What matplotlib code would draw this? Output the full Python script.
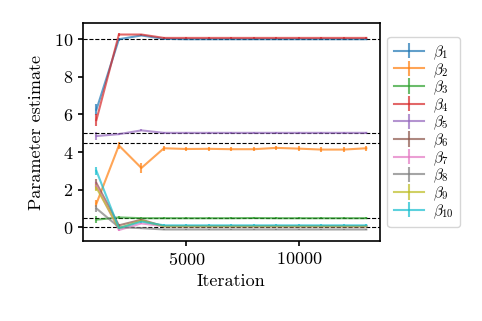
import matplotlib
matplotlib.use("Agg")
import matplotlib.pyplot as plt
import numpy as np

plt.rcParams['font.family'] = 'serif'
plt.rcParams['font.serif'] = ['cmr10', 'DejaVu Serif']
plt.rcParams['mathtext.fontset'] = 'cm'
plt.rcParams['axes.formatter.use_mathtext'] = True
plt.rcParams['font.size'] = 13

iterations = [1000, 2000, 3000, 4000, 5000, 6000, 7000, 8000, 9000, 10000, 11000, 12000, 13000]
true_values = [10, 5, 4.5, 0.5, 0]

beta1 = [6.25, 10.0, 10.2, 10.02, 10.0, 10.0, 10.0, 10.0, 10.0, 10.0, 10.0, 10.0, 10.0]
beta2 = [1.25, 4.35, 3.15, 4.2, 4.16, 4.17, 4.15, 4.15, 4.22, 4.18, 4.13, 4.13, 4.2]
beta3 = [0.4, 0.52, 0.48, 0.48, 0.48, 0.48, 0.48, 0.49, 0.48, 0.48, 0.48, 0.48, 0.48]
beta4 = [5.7, 10.25, 10.25, 10.07, 10.07, 10.07, 10.07, 10.07, 10.07, 10.07, 10.07, 10.07, 10.07]
beta5 = [4.85, 4.95, 5.15, 5.02, 5.02, 5.02, 5.02, 5.02, 5.02, 5.02, 5.02, 5.02, 5.02]
beta6 = [2.35, 0.1, 0.4, 0.05, 0.05, 0.05, 0.05, 0.05, 0.05, 0.05, 0.05, 0.05, 0.05]
beta7 = [2.2, -0.15, 0.2, 0.05, 0.05, 0.05, 0.05, 0.05, 0.05, 0.05, 0.05, 0.05, 0.05]
beta8 = [1.0, 0.0, -0.05, -0.12, -0.12, -0.12, -0.12, -0.12, -0.12, -0.12, -0.12, -0.12, -0.12]
beta9 = [2.1, -0.05, 0.35, 0.05, 0.05, 0.05, 0.05, 0.05, 0.05, 0.05, 0.05, 0.05, 0.05]
beta10 = [3.0, -0.05, 0.3, 0.1, 0.1, 0.1, 0.1, 0.1, 0.1, 0.1, 0.1, 0.1, 0.1]

err_big = [0.3, 0.08, 0.05, 0.05, 0.05, 0.05, 0.05, 0.05, 0.05, 0.05, 0.05, 0.05, 0.05]
err_orange = [0.2, 0.2, 0.25, 0.12, 0.12, 0.12, 0.12, 0.12, 0.12, 0.12, 0.12, 0.12, 0.12]
err_small = [0.2, 0.06, 0.05, 0.05, 0.05, 0.05, 0.05, 0.05, 0.05, 0.05, 0.05, 0.05, 0.05]

series = [beta1, beta2, beta3, beta4, beta5, beta6, beta7, beta8, beta9, beta10]
errors = [err_big, err_orange, err_small, err_big, err_small, err_small, err_small, err_small, err_small, err_small]
labels = [r'$\beta_{%d}$' % (i + 1) for i in range(10)]

fig = plt.figure(figsize=(4.82, 3.21), dpi=100)
ax = fig.add_axes([0.172, 0.249, 0.616, 0.679])

for i, (s, e, lab) in enumerate(zip(series, errors, labels)):
    ax.errorbar(iterations, s, yerr=e, color='C%d' % i, alpha=0.7, label=lab, lw=1.5)

for tv in true_values:
    ax.axhline(tv, color='black', ls='--', lw=0.8)

ax.set_xticks([5000, 10000])
ax.set_yticks([0, 2, 4, 6, 8, 10])
ax.set_xlabel('Iteration')
ax.set_ylabel('Parameter estimate', labelpad=7)
for sp in ax.spines.values():
    sp.set_linewidth(1.2)
ax.tick_params(width=1.2)
ax.legend(loc='center left', bbox_to_anchor=(1.0, 0.5), fontsize=11,
          handlelength=2.0, labelspacing=-0.05, borderpad=0.4, handletextpad=0.6)

fig.savefig('out.png', dpi=100)
